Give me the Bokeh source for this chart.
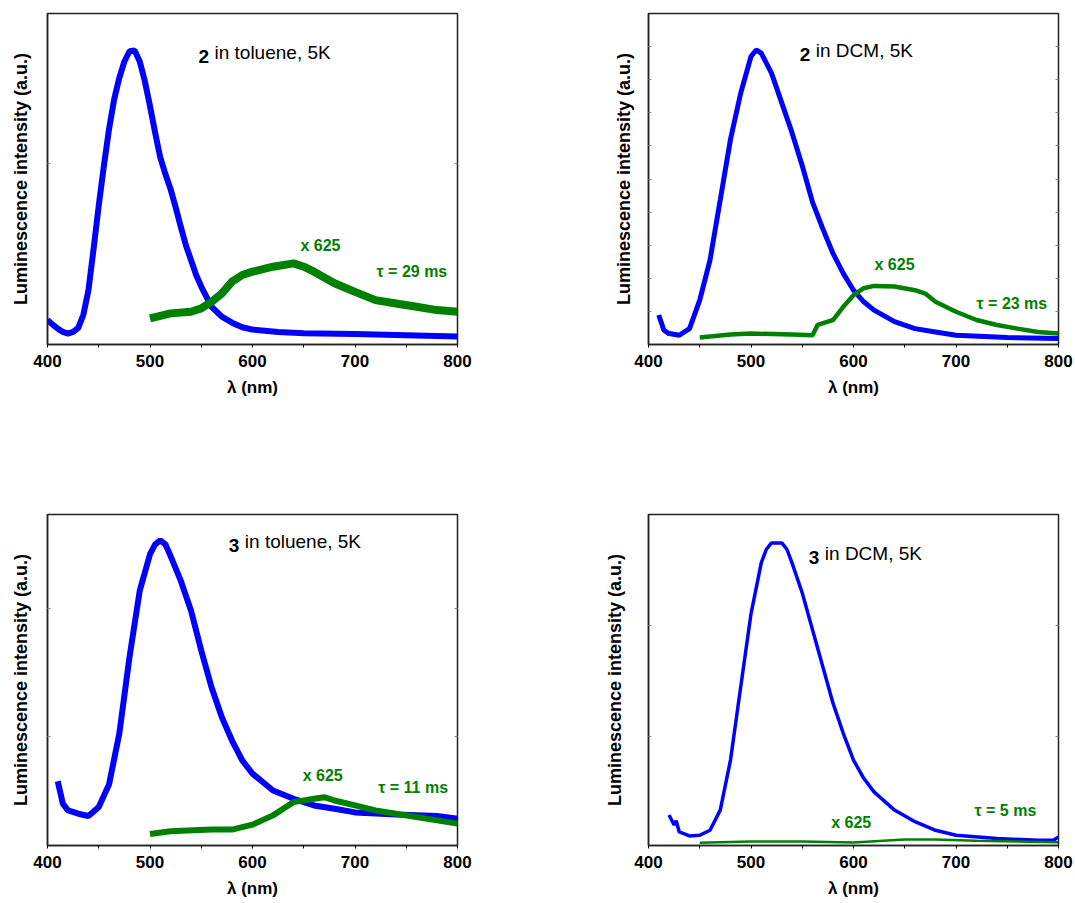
from bokeh.plotting import figure
from bokeh.layouts import column, row
from bokeh.models import Label, Range1d, FixedTicker, LinearAxis, CustomJSTickFormatter
from bokeh.embed import file_html
from bokeh.resources import INLINE

# ---------------- data (intensity in arbitrary units 0..1) -----------
# Panel A: 2 in toluene, 5K
a_blue_x = [400, 405, 410, 415, 420, 425, 430, 435, 440, 445, 450, 455, 460, 465, 470, 475,
            480, 485, 490, 495, 500, 505, 510, 515, 520, 525, 530, 535, 540, 545, 550, 560,
            570, 580, 590, 600, 625, 650, 700, 750, 800]
a_blue_y = [0.074, 0.060, 0.048, 0.038, 0.033, 0.038, 0.050, 0.090, 0.165, 0.290, 0.420, 0.540,
            0.650, 0.740, 0.805, 0.855, 0.886, 0.888, 0.855, 0.795, 0.720, 0.640, 0.565, 0.515,
            0.470, 0.415, 0.356, 0.300, 0.255, 0.210, 0.175, 0.114, 0.084, 0.066, 0.052, 0.045,
            0.038, 0.034, 0.032, 0.028, 0.024]
a_green_x = [500, 520, 540, 550, 560, 570, 580, 590, 600, 620, 640, 650, 660, 680, 700, 720,
             740, 760, 780, 800]
a_green_y = [0.079, 0.094, 0.099, 0.109, 0.129, 0.154, 0.190, 0.210, 0.220, 0.235, 0.245, 0.235,
             0.220, 0.185, 0.159, 0.134, 0.124, 0.114, 0.104, 0.099]

# Panel B: 2 in DCM, 5K
b_blue_x = [410, 415, 420, 430, 440, 450, 460, 470, 480, 490, 500, 505, 510, 520, 530, 540,
            550, 560, 570, 580, 590, 600, 610, 620, 640, 660, 680, 700, 750, 800]
b_blue_y = [0.089, 0.043, 0.033, 0.028, 0.048, 0.134, 0.255, 0.437, 0.620, 0.760, 0.870, 0.890,
            0.880, 0.820, 0.730, 0.640, 0.540, 0.430, 0.350, 0.275, 0.215, 0.164, 0.129, 0.104,
            0.069, 0.048, 0.038, 0.028, 0.021, 0.018]
b_green_x = [450, 480, 500, 540, 560, 565, 575, 580, 590, 600, 610, 620, 640, 660, 670, 680,
             700, 720, 740, 760, 780, 800]
b_green_y = [0.021, 0.030, 0.033, 0.030, 0.028, 0.059, 0.069, 0.074, 0.114, 0.149, 0.170, 0.177,
             0.175, 0.164, 0.154, 0.129, 0.099, 0.074, 0.059, 0.048, 0.038, 0.033]

# Panel C: 3 in toluene, 5K
c_blue_x = [410, 415, 420, 430, 440, 450, 460, 470, 480, 490, 500, 505, 510, 515, 520, 530, 540,
            550, 560, 570, 580, 590, 600, 620, 640, 660, 680, 700, 740, 780, 800]
c_blue_y = [0.194, 0.126, 0.106, 0.096, 0.089, 0.116, 0.184, 0.337, 0.569, 0.770, 0.880, 0.910,
            0.922, 0.910, 0.875, 0.800, 0.710, 0.589, 0.478, 0.388, 0.317, 0.257, 0.217, 0.166,
            0.141, 0.121, 0.111, 0.100, 0.094, 0.089, 0.081]
c_green_x = [500, 520, 560, 580, 600, 620, 630, 640, 660, 670, 680, 700, 720, 740, 760, 780, 800]
c_green_y = [0.035, 0.043, 0.048, 0.048, 0.063, 0.091, 0.111, 0.131, 0.141, 0.146, 0.136, 0.121,
             0.106, 0.096, 0.086, 0.076, 0.066]

# Panel D: 3 in DCM, 5K
d_blue_x = [420, 425, 427, 430, 440, 450, 460, 470, 480, 490, 500, 510, 515, 520, 530, 535, 540,
            550, 560, 570, 580, 590, 600, 610, 620, 640, 660, 680, 700, 740, 780, 795, 800]
d_blue_y = [0.092, 0.062, 0.075, 0.041, 0.029, 0.031, 0.046, 0.107, 0.258, 0.480, 0.700, 0.854,
            0.895, 0.914, 0.914, 0.895, 0.854, 0.763, 0.652, 0.541, 0.430, 0.339, 0.258, 0.203,
            0.162, 0.107, 0.072, 0.046, 0.031, 0.021, 0.016, 0.016, 0.026]
d_green_x = [450, 500, 550, 600, 650, 680, 720, 800]
d_green_y = [0.008, 0.012, 0.012, 0.009, 0.018, 0.018, 0.014, 0.010]

x_major = [400, 500, 600, 700, 800]
x_minor = [450, 550, 650, 750]

FONT = "Liberation Sans"
BLUE = "#0000ff"
GREEN = "#008000"


def panel(w, h, bl, br, bt, bb, yticks, ylab_standoff,
          bx, by, gx, gy, bw, gw, num, rest, tx, ty, mx, my, tau, taux, tauy):
    p = figure(width=w, height=h, x_range=Range1d(400, 800), y_range=Range1d(0, 1),
               output_backend="svg", toolbar_location=None,
               min_border_left=bl, min_border_right=br, min_border_top=bt, min_border_bottom=bb)
    p.grid.visible = False
    p.background_fill_color = "white"
    p.border_fill_color = "white"
    p.outline_line_color = "#222222"
    p.outline_line_width = 1.5

    xa = p.xaxis[0]
    xa.ticker = FixedTicker(ticks=x_major, minor_ticks=x_minor)
    xa.major_tick_in = 0
    xa.major_tick_out = 3
    xa.minor_tick_in = 0
    xa.minor_tick_out = 3
    xa.axis_line_color = "#222222"
    xa.axis_line_width = 1.5
    xa.major_label_text_font = FONT
    xa.major_label_text_font_style = "bold"
    xa.major_label_text_font_size = "17px"
    xa.major_label_text_color = "black"
    xa.major_label_standoff = 7
    xa.axis_label = "λ (nm)"
    xa.axis_label_text_font = FONT
    xa.axis_label_text_font_style = "bold"
    xa.axis_label_text_font_size = "17px"
    xa.axis_label_text_color = "black"
    xa.axis_label_standoff = 8

    empty = CustomJSTickFormatter(code="return ''")

    ya = p.yaxis[0]
    ya.ticker = FixedTicker(ticks=yticks, minor_ticks=[])
    ya.formatter = empty
    ya.major_tick_in = 3
    ya.major_tick_out = 0
    ya.major_tick_line_color = "#888888"
    ya.axis_line_color = "#222222"
    ya.axis_line_width = 1.5
    ya.major_label_standoff = 0
    ya.axis_label = "Luminescence intensity (a.u.)"
    ya.axis_label_text_font = FONT
    ya.axis_label_text_font_style = "bold"
    ya.axis_label_text_font_size = "18px"
    ya.axis_label_text_color = "black"
    ya.axis_label_standoff = ylab_standoff

    ra = LinearAxis(ticker=FixedTicker(ticks=yticks, minor_ticks=[]), formatter=empty)
    ra.major_tick_in = 3
    ra.major_tick_out = 0
    ra.major_tick_line_color = "#888888"
    ra.axis_line_color = None
    ra.major_label_standoff = 0
    p.add_layout(ra, "right")

    p.line(bx, by, line_color=BLUE, line_width=bw)
    p.line(gx, gy, line_color=GREEN, line_width=gw)

    p.add_layout(Label(x=tx, y=ty, text=num, text_font=FONT, text_font_style="bold",
                       text_font_size="19px", text_color="black"))
    p.add_layout(Label(x=tx, y=ty, x_offset=16, text=rest, text_font=FONT,
                       text_font_size="19px", text_color="black"))
    p.add_layout(Label(x=mx, y=my, text="x 625", text_font=FONT, text_font_style="bold",
                       text_font_size="16px", text_color=GREEN))
    p.add_layout(Label(x=taux, y=tauy, text=tau, text_font=FONT, text_font_style="bold",
                       text_font_size="16px", text_color=GREEN))
    return p


pA = panel(600, 500, 47, 143, 13, 156, [0.547], 17,
           a_blue_x, a_blue_y, a_green_x, a_green_y, 6, 8,
           "2", "in toluene, 5K", 547.3, 0.851, 646.8, 0.274, "τ = 29 ms", 721, 0.195)
pB = panel(475, 500, 48, 17, 13, 156, [0.1, 0.2, 0.3, 0.4, 0.5, 0.6, 0.7, 0.8, 0.9], 15,
           b_blue_x, b_blue_y, b_green_x, b_green_y, 5, 4.5,
           "2", "in DCM, 5K", 547.6, 0.858, 620.5, 0.217, "τ = 23 ms", 720, 0.098)
pC = panel(600, 403, 47, 143, 14, 58, [0.33, 0.716], 17,
           c_blue_x, c_blue_y, c_green_x, c_green_y, 6, 6,
           "3", "in toluene, 5K", 576.9, 0.886, 649, 0.186, "τ = 11 ms", 722.6, 0.151)
pD = panel(475, 403, 48, 17, 14, 58, [0.33, 0.664], 24,
           d_blue_x, d_blue_y, d_green_x, d_green_y, 3.5, 2.5,
           "3", "in DCM, 5K", 556.4, 0.849, 578.2, 0.043, "τ = 5 ms", 718, 0.081)

layout = column(row(pA, pB, spacing=0), row(pC, pD, spacing=0), spacing=0)

open("out.html", "w").write(file_html(layout, INLINE))
